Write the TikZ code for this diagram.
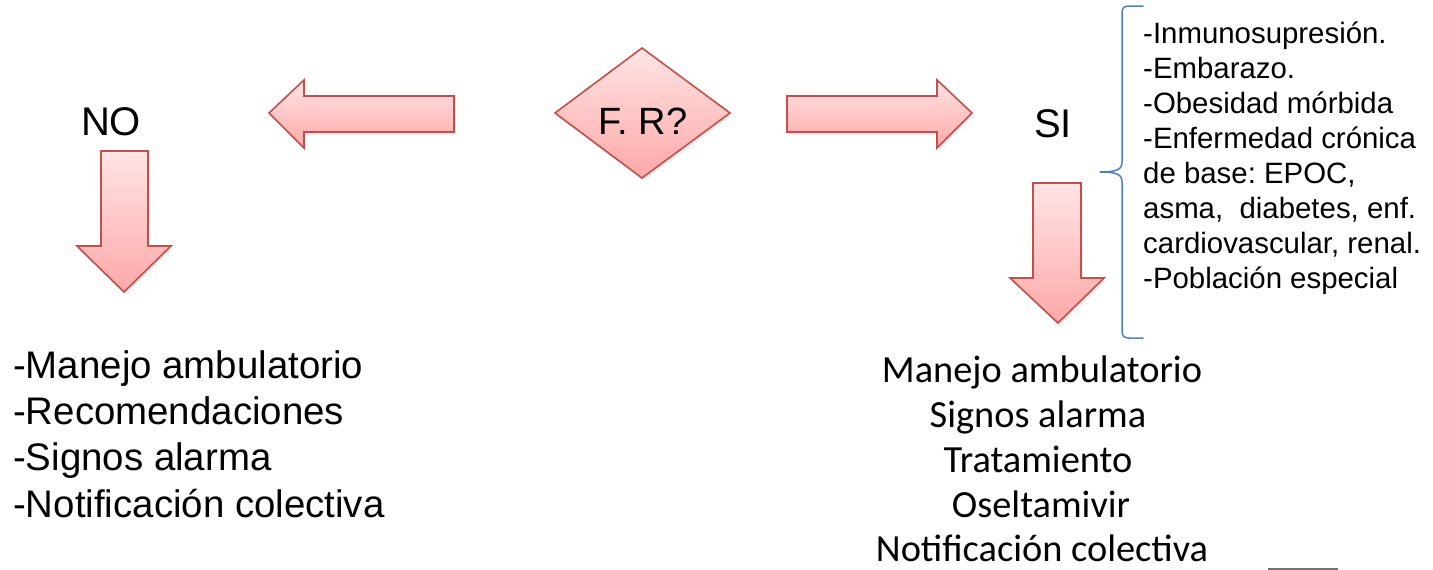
\documentclass[tikz,border=0pt]{standalone}
\usepackage{fontspec}
\setmainfont{Liberation Sans}
\newfontfamily\calibrifont{Carlito}
\usetikzlibrary{shadows}
\frenchspacing

\definecolor{arrowline}{RGB}{192,80,77}
\definecolor{arrowtop}{RGB}{255,228,228}
\definecolor{arrowbot}{RGB}{255,168,168}
\definecolor{bracecol}{RGB}{79,129,189}

\tikzset{
  blockshape/.style={draw=arrowline, line width=1.6pt, line join=miter,
    top color=arrowtop, bottom color=arrowbot,
    drop shadow={opacity=0.16, shadow xshift=1.5pt, shadow yshift=-3pt}},
  txt/.style={inner sep=0pt, anchor=base},
  bigword/.style={txt, font=\fontsize{40}{48}\selectfont},
  decision/.style={txt, font=\fontsize{38}{46}\selectfont},
  nolist/.style={txt, anchor=base west, font=\fontsize{38.4}{46}\selectfont},
  silist/.style={txt, text depth=0pt, font=\calibrifont\fontsize{38.4}{46}\selectfont},
  riskitem/.style={txt, anchor=base west, font=\fontsize{29.4}{35}\selectfont},
  bracket/.style={draw=bracecol, line width=1.5pt, line cap=round, line join=round},
}

\begin{document}
\begin{tikzpicture}[x=1pt, y=-1pt]
  \useasboundingbox (0,0) rectangle (1433,570);

  % decision diamond
  \path[blockshape] (555,113) -- (642,48) -- (730,113) -- (642,178) -- cycle;
  \node[decision] (fr) at (643,134) {F. R?};

  % arrow to the left (NO branch)
  \path[blockshape] (269,113) -- (304,80) -- (304,96) -- (454,96) -- (454,132)
    -- (304,132) -- (304,148) -- cycle;
  % arrow to the right (SI branch)
  \path[blockshape] (972,113) -- (937,80) -- (937,96) -- (787,96) -- (787,132)
    -- (937,132) -- (937,148) -- cycle;

  % downward arrows
  \path[blockshape] (101,151) -- (148,151) -- (148,246) -- (171,246) -- (124,292)
    -- (77,246) -- (101,246) -- cycle;
  \path[blockshape] (1033,183) -- (1081,183) -- (1081,278) -- (1104,278) -- (1058,323)
    -- (1010,278) -- (1033,278) -- cycle;

  % branch labels
  \node[bigword] (no) at (111,135) {NO};
  \node[bigword] (si) at (1053,137) {SI};

  % NO branch actions
  \node[nolist] (no1) at (13,378) {-Manejo ambulatorio};
  \node[nolist] (no2) at (13,424) {-Recomendaciones};
  \node[nolist] (no3) at (13,470) {-Signos alarma};
  \node[nolist] (no4) at (13,517) {-Notificación colectiva};

  % SI branch actions
  \node[silist] (si1) at (1042,382) {Manejo ambulatorio};
  \node[silist] (si2) at (1038,427) {Signos alarma};
  \node[silist] (si3) at (1038,472) {Tratamiento};
  \node[silist] (si4) at (1041,517) {Oseltamivir};
  \node[silist] (si5) at (1042,561) {Notificación colectiva};

  % risk factors with brace
  \draw[bracket] (1143,6) -- (1129,6) .. controls (1124,6) and (1122,8) .. (1122,13)
    -- (1122,162) .. controls (1122,169) and (1118,172) .. (1100,172)
    .. controls (1118,172) and (1122,175) .. (1122,182)
    -- (1122,331) .. controls (1122,336) and (1124,338) .. (1129,338) -- (1143,338);
  \node[riskitem] (r1) at (1143,43)  {-Inmunosupresión.};
  \node[riskitem] (r2) at (1143,78)  {-Embarazo.};
  \node[riskitem] (r3) at (1143,113) {-Obesidad mórbida};
  \node[riskitem] (r4) at (1143,148) {-Enfermedad crónica};
  \node[riskitem] (r5) at (1143,183) {de base: EPOC,};
  \node[riskitem] (r6) at (1143,218) {asma,\ \ diabetes, enf.};
  \node[riskitem] (r7) at (1143,253) {cardiovascular, renal.};
  \node[riskitem] (r8) at (1143,288) {-Población especial};

  % clipped edge at the lower right
  \draw[black!55, line width=1.5pt] (1268,569) -- (1338,569);
\end{tikzpicture}
\end{document}
